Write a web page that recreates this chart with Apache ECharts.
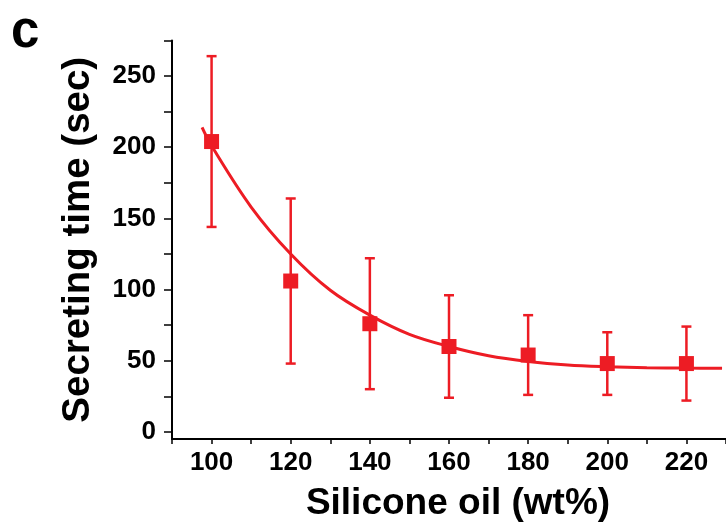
<!DOCTYPE html>
<html>
<head>
<meta charset="utf-8">
<script src="https://cdn.jsdelivr.net/npm/echarts@6/dist/echarts.min.js"></script>
<style>html,body{margin:0;padding:0;background:#fff}#c{width:726px;height:527px}</style>
</head>
<body>
<div id="c"></div>
<script>
// Data
var xValues = [100, 120, 140, 160, 180, 200, 220];
var meanValues = [204, 106, 76, 60, 54, 48, 48];
var sdValues = [60, 58, 46, 36, 28, 22, 26];
// fitted curve, points
var curveX = [97.6, 100, 110, 120, 130, 140, 150, 160, 170, 180, 190, 200, 210, 220, 229];
var curveY = [214, 201, 158, 125, 99.5, 82, 68.5, 60, 53.5, 49.5, 47, 45.8, 45.1, 44.8, 44.7];
var xTickValues = [90, 100, 110, 120, 130, 140, 150, 160, 170, 180, 190, 200, 210, 220, 230];
var xLabelValues = [100, 120, 140, 160, 180, 200, 220];
var yTickValues = [0, 25, 50, 75, 100, 125, 150, 175, 200, 225, 250, 275];
var yLabelValues = [0, 50, 100, 150, 200, 250];
var panelLabel = 'c';
var xTitle = 'Silicone oil (wt%)';
var yTitle = 'Secreting time (sec)';

var RED = '#ED1C24';
var FONT = '"Liberation Sans", Arial, Helvetica, sans-serif';

var pts = xValues.map(function (x, i) { return [x, meanValues[i]]; });
var errData = xValues.map(function (x, i) { return [x, meanValues[i] - sdValues[i], meanValues[i] + sdValues[i]]; });
var curve = curveX.map(function (x, i) { return [x, curveY[i]]; });

var chart = echarts.init(document.getElementById('c'), null, {renderer: 'canvas'});
chart.setOption({
  animation: false,
  backgroundColor: '#fff',
  grid: {left: 172, top: 40.5, width: 556, height: 400, containLabel: false},
  graphic: [{
    type: 'text',
    style: {text: panelLabel, x: 11, y: 33, fontSize: 51, fontWeight: 'bold', fontFamily: FONT, fill: '#000', verticalAlign: 'middle'}
  }],
  xAxis: {
    type: 'value', min: 90, max: 230,
    name: xTitle, nameLocation: 'middle', nameGap: 46,
    nameTextStyle: {fontSize: 37, fontWeight: 'bold', fontFamily: FONT, color: '#000', padding: [0, 0, 0, 18]},
    axisLine: {show: true, onZero: false, lineStyle: {color: '#000', width: 2}},
    axisTick: {show: true, length: 5, lineStyle: {color: '#000', width: 1.5}, customValues: xTickValues},
    axisLabel: {fontSize: 26, fontWeight: 'bold', fontFamily: FONT, color: '#000', margin: 11, customValues: xLabelValues},
    splitLine: {show: false}
  },
  yAxis: {
    type: 'value', min: -5, max: 275,
    name: yTitle, nameLocation: 'middle', nameGap: 74, nameRotate: 90,
    nameTextStyle: {fontSize: 38.5, fontWeight: 'bold', fontFamily: FONT, color: '#000'},
    axisLine: {show: true, onZero: false, lineStyle: {color: '#000', width: 2}},
    axisTick: {show: true, length: 8, lineStyle: {color: '#000', width: 1.5}, customValues: yTickValues},
    axisLabel: {fontSize: 26, fontWeight: 'bold', fontFamily: FONT, color: '#000', margin: 16, customValues: yLabelValues},
    splitLine: {show: false}
  },
  series: [
    {
      type: 'custom', z: 2,
      data: errData,
      renderItem: function (params, api) {
        var x = api.value(0);
        var lo = api.coord([x, api.value(1)]);
        var hi = api.coord([x, api.value(2)]);
        var w = 5;
        var st = {stroke: RED, lineWidth: 2.5};
        return {
          type: 'group',
          children: [
            {type: 'line', shape: {x1: lo[0], y1: lo[1], x2: hi[0], y2: hi[1]}, style: st},
            {type: 'line', shape: {x1: lo[0] - w, y1: lo[1], x2: lo[0] + w, y2: lo[1]}, style: st},
            {type: 'line', shape: {x1: hi[0] - w, y1: hi[1], x2: hi[0] + w, y2: hi[1]}, style: st}
          ]
        };
      }
    },
    {
      type: 'line', z: 3, data: curve, smooth: 0.35, showSymbol: false,
      lineStyle: {color: RED, width: 3}
    },
    {
      type: 'scatter', z: 4, data: pts, symbol: 'rect', symbolSize: 15,
      itemStyle: {color: RED, opacity: 1}
    }
  ]
});
</script>
</body>
</html>
